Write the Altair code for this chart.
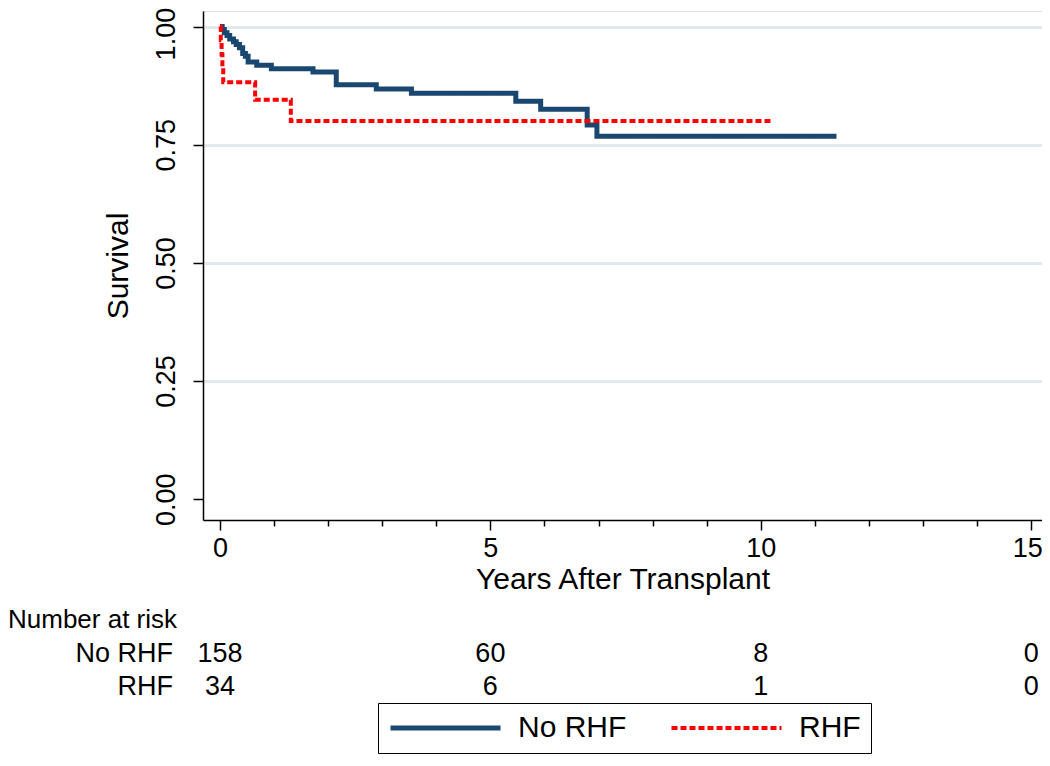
import altair as alt
import pandas as pd

# ---- data ----
groups = ["No RHF", "RHF"]

norhf_t = [0, 0.04, 0.08, 0.13, 0.18, 0.25, 0.30, 0.36, 0.42, 0.47, 0.52, 0.68, 0.95,
           1.72, 2.15, 2.89, 3.54, 5.47, 5.93, 6.79, 6.97, 11.4]
norhf_s = [1.0, 0.994, 0.987, 0.981, 0.974, 0.968, 0.962, 0.955, 0.943, 0.937, 0.925,
           0.918, 0.911, 0.904, 0.877, 0.868, 0.859, 0.842, 0.825, 0.792, 0.768, 0.768]

rhf_t = [0, 0.015, 0.03, 0.045, 0.06, 0.65, 1.31, 10.2]
rhf_s = [1.0, 0.971, 0.941, 0.912, 0.882, 0.845, 0.80, 0.80]

risk_times = [0, 5, 10, 15]
norhf_risk = [158, 60, 8, 0]
rhf_risk = [34, 6, 1, 0]

x_ticks = list(range(0, 16))
y_ticks = [0, 0.25, 0.5, 0.75, 1.0]

# ---- tables ----
curves = pd.concat([
    pd.DataFrame({"t": norhf_t, "s": norhf_s, "group": groups[0]}),
    pd.DataFrame({"t": rhf_t, "s": rhf_s, "group": groups[1]}),
], ignore_index=True)

risk_a = pd.DataFrame({"t": risk_times, "n": norhf_risk})
risk_b = pd.DataFrame({"t": risk_times, "n": rhf_risk})

FONT = "Liberation Sans"
W, H = 839, 509

xscale = alt.Scale(domain=[-0.314, 15.20], nice=False, zero=False)
yscale = alt.Scale(domain=[-0.044, 1.033], nice=False, zero=False)

xaxis = alt.Axis(
    values=x_ticks,
    format="d",
    labelExpr="datum.value % 5 === 0 ? datum.label : ''",
    labelOffset={"condition": {"test": "datum.value === 15", "value": -4}, "value": 0},
    tickSize={"condition": {"test": "datum.value % 5 === 0", "value": 10}, "value": 6},
    grid=False,
    domainColor="black", domainWidth=1.5,
    tickColor="black", tickWidth=1.5,
    labelFont=FONT, labelFontSize=27, labelColor="black", labelPadding=5,
    labelFlush=False, labelOverlap=False,
    title="Years After Transplant",
    titleFont=FONT, titleFontSize=30, titleFontWeight="normal", titleColor="black",
    titlePadding=3,
)

yaxis = alt.Axis(
    values=y_ticks,
    format=".2f",
    labelAngle=270,
    labelOffset={"condition": {"test": "datum.value === 1", "value": 7}, "value": 0},
    tickSize=10,
    grid=True,
    gridColor="#e2e9ee", gridWidth=3,
    gridOpacity={"condition": {"test": "datum.value === 0", "value": 0}, "value": 1},
    domainColor="black", domainWidth=1.5,
    tickColor="black", tickWidth=1.5,
    labelFont=FONT, labelFontSize=27, labelColor="black", labelPadding=13,
    labelFlush=False, labelOverlap=False,
    title="Survival",
    titleFont=FONT, titleFontSize=30, titleFontWeight="normal", titleColor="black",
    titlePadding=19,
)

legend = alt.Legend(
    title=None,
    orient="none", legendX=175, legendY=692,
    direction="horizontal", columns=2,
    symbolType="stroke", symbolSize=12100, symbolStrokeWidth=5,
    clipHeight=30,
    labelFont=FONT, labelFontSize=30, labelColor="black",
    labelOffset=15, columnPadding=42,
    padding=10, strokeColor="black", fillColor="white",
)

lines = alt.Chart(curves).mark_line(interpolate="step-after", strokeCap="butt").encode(
    x=alt.X("t:Q", scale=xscale, axis=xaxis),
    y=alt.Y("s:Q", scale=yscale, axis=yaxis),
    color=alt.Color(
        "group:N",
        scale=alt.Scale(domain=groups, range=["#1a476f", "#ff0000"]),
        legend=legend,
    ),
    strokeDash=alt.StrokeDash(
        "group:N",
        scale=alt.Scale(domain=groups, range=[[1, 0], [6, 3]]),
        legend=legend,
    ),
    strokeWidth=alt.StrokeWidth(
        "group:N", scale=alt.Scale(domain=groups, range=[5, 4]), legend=None
    ),
)

def risk_numbers(df, ypix):
    return alt.Chart(df).mark_text(
        font=FONT, fontSize=27, color="black", align="center", baseline="middle"
    ).encode(
        x=alt.X("t:Q", title="Years After Transplant"),
        y=alt.value(ypix),
        text=alt.Text("n:Q", format="d"),
    )

def label_text(txt, xpix, ypix, align, size=27):
    return alt.Chart(pd.DataFrame({"label": [txt]})).mark_text(
        font=FONT, fontSize=size, color="black", align=align, baseline="middle"
    ).encode(
        x=alt.value(xpix),
        y=alt.value(ypix),
        text="label:N",
    )

header = label_text("Number at risk", -195, 609, "left", 26)
row_a_label = label_text(groups[0], -30, 643, "right")
row_b_label = label_text(groups[1], -30, 676, "right")
row_a = risk_numbers(risk_a, 643)
row_b = risk_numbers(risk_b, 676)

chart = alt.layer(
    lines, header, row_a_label, row_b_label, row_a, row_b
).properties(
    width=W, height=H,
    autosize=alt.AutoSizeParams(type="none"),
    padding={"left": 195, "top": 3, "right": 0, "bottom": 236},
).configure_view(
    stroke=None
).configure(
    background="white"
)

chart.save("out.html", embed_options={"renderer": "svg", "actions": False})
